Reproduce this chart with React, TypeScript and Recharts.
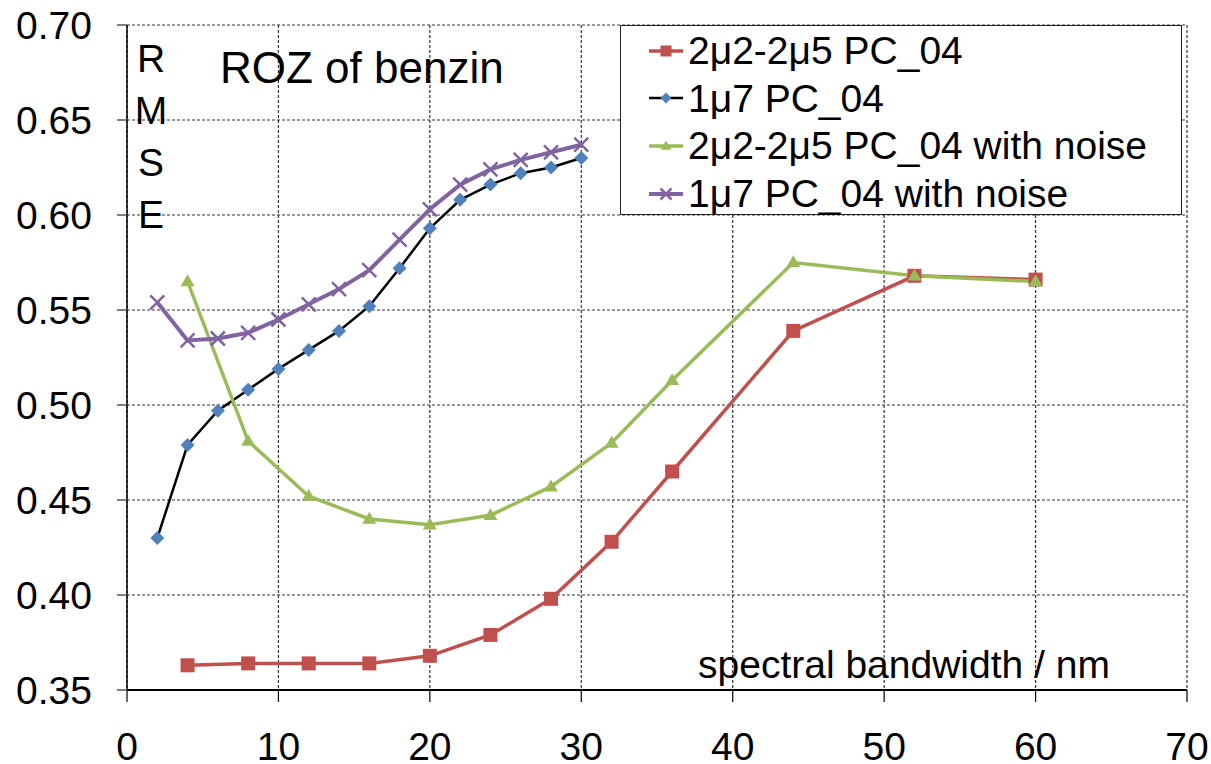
import React from "react";
import { LineChart, Line, XAxis, YAxis, CartesianGrid, Legend } from "recharts";

// spectral bandwidth (nm)
const bandCoarse = [4, 8, 12, 16, 20, 24, 28, 32, 36, 44, 52, 60];
const bandFine = [2, 4, 6, 8, 10, 12, 14, 16, 18, 20, 22, 24, 26, 28, 30];

// RMSE values
const rmse2u2 = [0.363, 0.364, 0.364, 0.364, 0.368, 0.379, 0.398, 0.428, 0.465, 0.539, 0.568, 0.566];
const rmse1u7 = [0.43, 0.479, 0.497, 0.508, 0.519, 0.529, 0.539, 0.552, 0.572, 0.593, 0.608, 0.616, 0.622, 0.625, 0.63];
const rmse2u2Noise = [0.565, 0.481, 0.452, 0.44, 0.437, 0.442, 0.457, 0.48, 0.513, 0.575, 0.568, 0.565];
const rmse1u7Noise = [0.554, 0.534, 0.535, 0.538, 0.545, 0.553, 0.561, 0.571, 0.587, 0.603, 0.616, 0.624, 0.629, 0.633, 0.637];

const xTicks = [0, 10, 20, 30, 40, 50, 60, 70];
const yTicks = [0.35, 0.4, 0.45, 0.5, 0.55, 0.6, 0.65, 0.7];
const yLetters = ["R", "M", "S", "E"];

const FONT = '"Liberation Sans", Arial, sans-serif';

type Marker = "square" | "diamond" | "triangle" | "cross";

const zip = (xs: number[], ys: number[]) => xs.map((x, i) => ({ x, y: ys[i] }));

const series = [
  { name: "2μ2-2μ5 PC_04", data: zip(bandCoarse, rmse2u2), line: "#C0504D", fill: "#C0504D", width: 3.5, marker: "square" as Marker },
  { name: "1μ7 PC_04", data: zip(bandFine, rmse1u7), line: "#000000", fill: "#4F81BD", width: 2.5, marker: "diamond" as Marker },
  { name: "2μ2-2μ5 PC_04 with noise", data: zip(bandCoarse, rmse2u2Noise), line: "#9BBB59", fill: "#9BBB59", width: 3.5, marker: "triangle" as Marker },
  { name: "1μ7 PC_04 with noise", data: zip(bandFine, rmse1u7Noise), line: "#8064A2", fill: "#8064A2", width: 4, marker: "cross" as Marker },
];

function markerShape(kind: Marker, cx: number, cy: number, color: string, s: number, key?: string) {
  if (kind === "square") {
    return <rect key={key} x={cx - s / 2} y={cy - s / 2} width={s} height={s} fill={color} />;
  }
  if (kind === "diamond") {
    const r = s / 2;
    return <polygon key={key} points={`${cx},${cy - r} ${cx + r},${cy} ${cx},${cy + r} ${cx - r},${cy}`} fill={color} />;
  }
  if (kind === "triangle") {
    const h = s * 0.85;
    return (
      <polygon
        key={key}
        points={`${cx},${cy - h * 0.6} ${cx + s / 2},${cy + h * 0.4} ${cx - s / 2},${cy + h * 0.4}`}
        fill={color}
      />
    );
  }
  const r = s / 2;
  return (
    <path key={key} d={`M${cx - r},${cy - r}L${cx + r},${cy + r}M${cx - r},${cy + r}L${cx + r},${cy - r}`} stroke={color} strokeWidth={2.5} fill="none" />
  );
}

function LegendBox() {
  return (
    <div
      style={{
        width: 562,
        height: 190,
        boxSizing: "border-box",
        border: "1.5px solid #222",
        background: "#fff",
        paddingTop: 1,
        fontFamily: FONT,
        fontSize: 39,
        color: "#000",
      }}
    >
      {series.map((s) => (
        <div key={s.name} style={{ display: "flex", alignItems: "center", height: 47.6 }}>
          <svg width={67} height={40} style={{ flex: "none" }}>
            <line x1={28} x2={62} y1={20} y2={20} stroke={s.line} strokeWidth={s.width} />
            {markerShape(s.marker, 45, 20, s.fill, 11)}
          </svg>
          <span style={{ whiteSpace: "nowrap", lineHeight: 1 }}>{s.name}</span>
        </div>
      ))}
    </div>
  );
}

export default function App() {
  return (
    <div style={{ position: "absolute", left: 0, top: 0, background: "#fff" }}>
      <LineChart width={1211} height={764} margin={{ top: 25, right: 24, left: 0, bottom: 0 }}>
        <CartesianGrid stroke="#333" strokeDasharray="3 2" strokeWidth={1.2} />
        <XAxis
          type="number"
          dataKey="x"
          domain={[0, 70]}
          ticks={xTicks}
          height={74}
          tickSize={12}
          tickMargin={30}
          axisLine={{ stroke: "#000", strokeWidth: 2 }}
          tickLine={{ stroke: "#000", strokeWidth: 1.2 }}
          tick={{ fill: "#000", fontSize: 39, fontFamily: FONT }}
          allowDuplicatedCategory={false}
        />
        <YAxis
          type="number"
          domain={[0.35, 0.7]}
          ticks={yTicks}
          width={127}
          tickSize={10}
          tickMargin={25}
          tickFormatter={(v: number) => v.toFixed(2)}
          axisLine={{ stroke: "#000", strokeWidth: 1.5 }}
          tickLine={{ stroke: "#555", strokeWidth: 1.5 }}
          tick={{ fill: "#000", fontSize: 39, fontFamily: FONT }}
        />
        {series.map((s) => (
          <Line
            key={s.name}
            name={s.name}
            data={s.data}
            dataKey="y"
            type="linear"
            stroke={s.line}
            strokeWidth={s.width}
            isAnimationActive={false}
            activeDot={false}
            dot={(p: any) => markerShape(s.marker, p.cx, p.cy, s.fill, s.marker === "diamond" ? 14 : 14, `${s.name}-${p.index}`)}
          />
        ))}
        <Legend
          layout="vertical"
          align="center"
          verticalAlign="middle"
          content={() => <LegendBox />}
          wrapperStyle={{ left: 620, top: 25, width: 562, height: 190 }}
        />
        <text x={220} y={83} fontSize={44} fontFamily={FONT} fill="#000">
          ROZ of benzin
        </text>
        {yLetters.map((c, i) => (
          <text key={c} x={151} y={72 + i * 52} fontSize={39} fontFamily={FONT} fill="#000" textAnchor="middle">
            {c}
          </text>
        ))}
        <text x={698} y={678} fontSize={39} fontFamily={FONT} fill="#000">
          spectral bandwidth / nm
        </text>
      </LineChart>
    </div>
  );
}
